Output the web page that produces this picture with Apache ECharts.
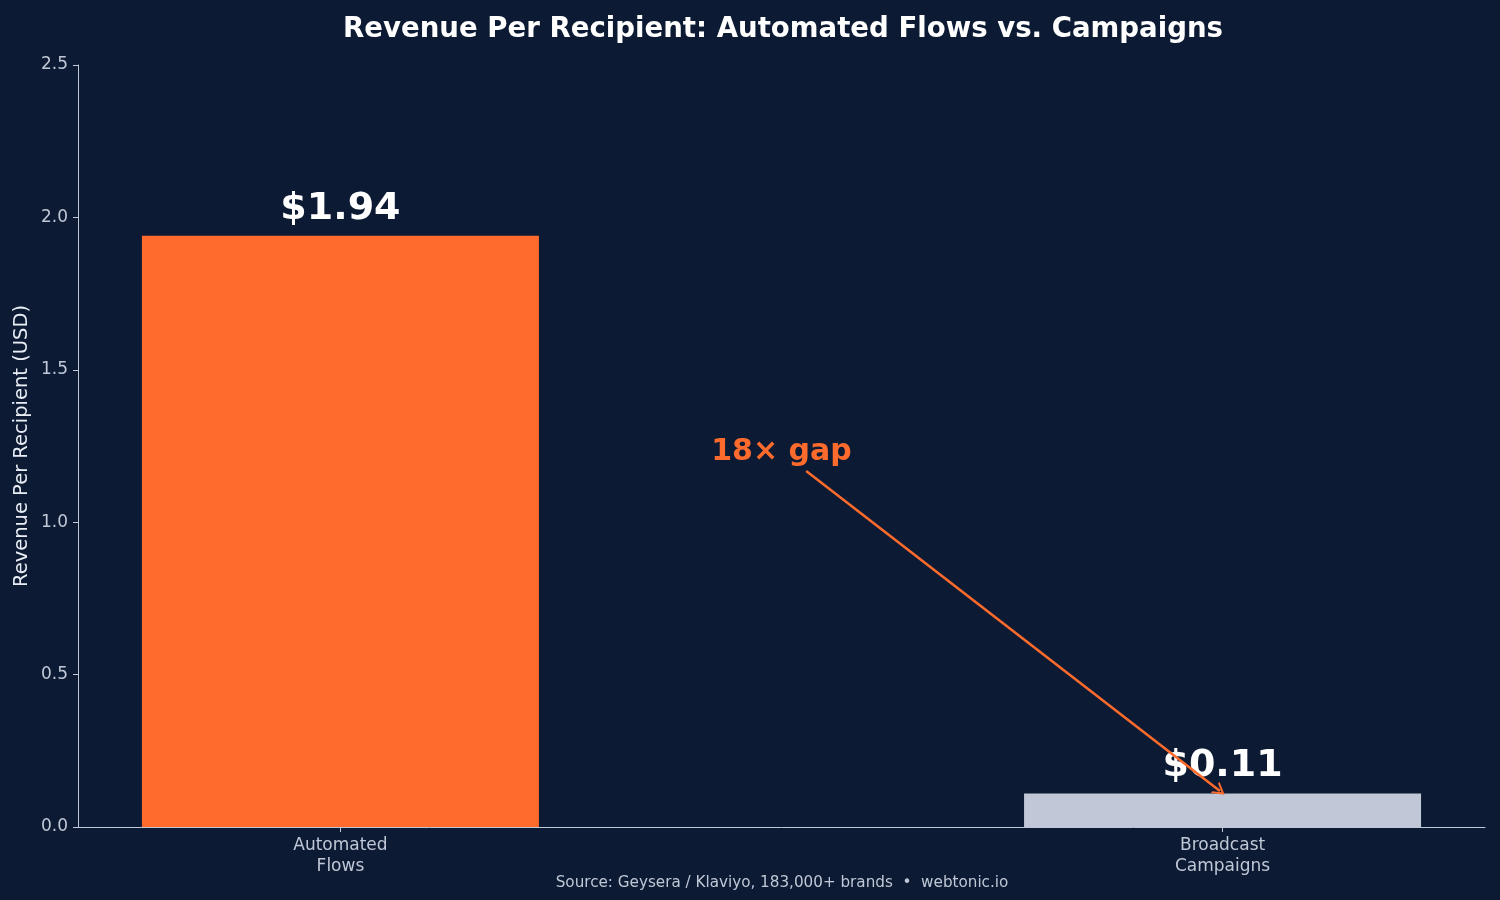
<!DOCTYPE html>
<html>
<head>
<meta charset="utf-8">
<script src="https://cdn.jsdelivr.net/npm/echarts@6/dist/echarts.min.js"></script>
<style>
  html, body { margin: 0; padding: 0; background: #0c1b33; }
  #main { width: 1500px; height: 900px; }
</style>
</head>
<body>
<div id="main"></div>
<script>
var categories = ['Automated\nFlows', 'Broadcast\nCampaigns'];
var values = [1.94, 0.11];
var barColors = ['#ff6b2c', '#c0c7d6'];

var bg = '#0c1b33';
var orange = '#ff6b2c';
var axisColor = '#c0c7d6';
var font = 'DejaVu Sans';

var myChart = echarts.init(document.getElementById('main'));

var barData = [];
for (var i = 0; i < values.length; i++) {
    barData.push({
        value: [i, values[i]],
        itemStyle: { color: barColors[i] }
    });
}

var option = {
    backgroundColor: bg,
    animation: false,
    title: {
        text: 'Revenue Per Recipient: Automated Flows vs. Campaigns',
        left: 778,
        textAlign: 'center',
        top: 11,
        textStyle: { color: '#ffffff', fontFamily: font, fontWeight: 'bold', fontSize: 27.6 }
    },
    graphic: [{
        type: 'text',
        x: 782,
        y: 883,
        style: {
            text: 'Source: Geysera / Klaviyo, 183,000+ brands  \u2022  webtonic.io',
            fill: axisColor,
            font: '15.2px "DejaVu Sans"',
            align: 'center',
            verticalAlign: 'middle'
        }
    }],
    grid: { left: 78, right: 15, top: 65, bottom: 73 },
    xAxis: {
        type: 'value',
        min: -0.2975,
        max: 1.2975,
        splitLine: { show: false },
        axisLine: { show: true, onZero: false, lineStyle: { color: axisColor, width: 1 } },
        axisTick: { show: true, length: 5, customValues: [0, 1], lineStyle: { color: axisColor } },
        axisLabel: {
            customValues: [0, 1],
            color: axisColor,
            fontFamily: font,
            fontSize: 17,
            lineHeight: 21,
            margin: 8,
            formatter: function (v) { return categories[Math.round(v)]; }
        }
    },
    yAxis: {
        type: 'value',
        min: 0,
        max: 2.5,
        interval: 0.5,
        name: 'Revenue Per Recipient (USD)',
        nameLocation: 'middle',
        nameGap: 46,
        nameMoveOverlap: false,
        nameTextStyle: { color: '#e8ecf4', fontFamily: font, fontSize: 19.5 },
        splitLine: { show: false },
        axisLine: { show: true, onZero: false, lineStyle: { color: axisColor, width: 1 } },
        axisTick: { show: true, length: 5, lineStyle: { color: axisColor } },
        axisLabel: {
            color: axisColor,
            fontFamily: font,
            fontSize: 17,
            margin: 10,
            formatter: function (v) { return v.toFixed(1); }
        }
    },
    series: [{
        type: 'bar',
        data: barData,
        barWidth: 397,
        label: {
            show: true,
            position: 'top',
            distance: 8,
            color: '#ffffff',
            fontFamily: font,
            fontWeight: 'bold',
            fontSize: 38,
            formatter: function (p) { return '$' + p.value[1].toFixed(2); }
        },
        markLine: {
            silent: true,
            symbol: ['none', 'path://M5,0 L10,9 L8.4,9 L5,3 L1.6,9 L0,9 Z'],
            symbolSize: [14, 12],
            lineStyle: { color: orange, width: 2.5, type: 'solid' },
            label: { show: false },
            data: [[{ coord: [0.528, 1.168] }, { coord: [0.997, 0.118] }]]
        },
        markPoint: {
            silent: true,
            symbol: 'circle',
            symbolSize: 0,
            label: {
                show: true,
                position: 'inside',
                formatter: '18\u00d7 gap',
                color: orange,
                fontFamily: font,
                fontWeight: 'bold',
                fontSize: 30
            },
            data: [{ coord: [0.5, 1.23] }]
        }
    }]
};

myChart.setOption(option);
</script>
</body>
</html>
